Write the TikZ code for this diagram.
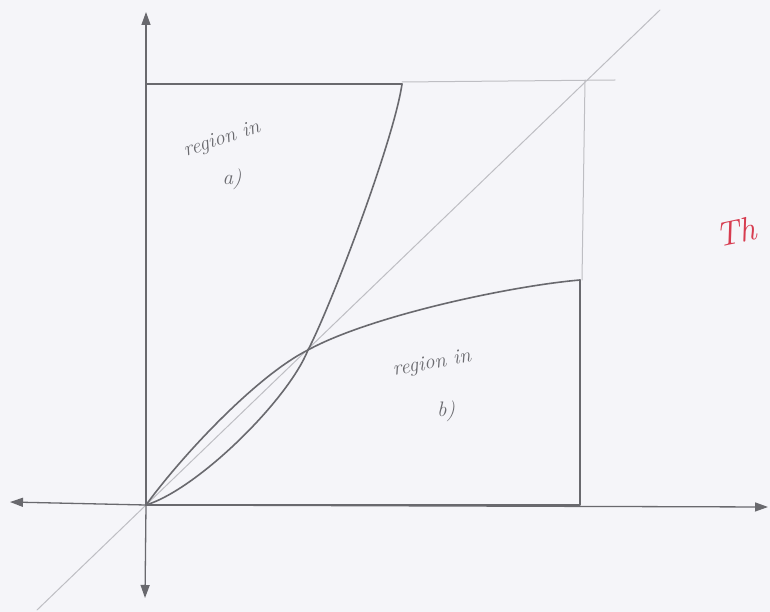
\documentclass[tikz,border=0pt]{standalone}
\usetikzlibrary{arrows.meta}
\definecolor{paper}{RGB}{245,245,249}
\definecolor{pencil}{RGB}{105,105,110}
\definecolor{faint}{RGB}{190,190,195}
\definecolor{redink}{RGB}{215,60,80}
\tikzset{
  dark/.style={draw=pencil, line width=1.6pt, line cap=round, line join=round},
  light/.style={draw=faint, line width=1pt, line cap=round},
  axis/.style={draw=pencil, line width=1.3pt, -{Triangle[length=13pt,width=9pt]}},
  hand/.style={text=pencil, font=\itshape\fontsize{21}{24}\selectfont, inner sep=0pt}
}
\begin{document}
\begin{tikzpicture}[x=1pt,y=-1pt]
\fill[paper] (0,0) rectangle (770,612);
\useasboundingbox (0,0) rectangle (770,612);
\coordinate (O) at (146,505);
\coordinate (P) at (308,350);
\coordinate (A) at (402,84);
\coordinate (B) at (580,280);
% diagonal and faint lines
\draw[light] (37,610) -- (660,10);
\draw[light] (402,82) -- (615,80);
\draw[light] (585,80) -- (582,280);
% axes
\draw[axis] (O) -- (146,12);
\draw[axis] (O) -- (145,598);
\draw[axis] (O) -- (10,502);
\draw[axis] (O) -- (768,507);
% box edges
\draw[dark] (146,84) -- (A);
\draw[dark] (O) -- (580,505) -- (B);
% curve a (convex)
\draw[dark] (O) .. controls (198,489) and (288,400) .. (P)
                .. controls (331,306) and (394,140) .. (A);
% curve b (concave)
\draw[dark] (O) .. controls (184,453) and (258,375) .. (P)
                .. controls (370,316) and (510,286) .. (B);
% labels
\node[hand, rotate=18] (la) at (222,140) {region in};
\node[hand] (la2) at (232,179) {a)};
\node[hand, rotate=10] (lb) at (432,364) {region in};
\node[hand] (lb2) at (446,411) {b)};
\node[text=redink, font=\itshape\fontsize{34}{36}\selectfont, anchor=west, rotate=12, inner sep=0pt] (th) at (716,236) {Th};
\end{tikzpicture}
\end{document}
